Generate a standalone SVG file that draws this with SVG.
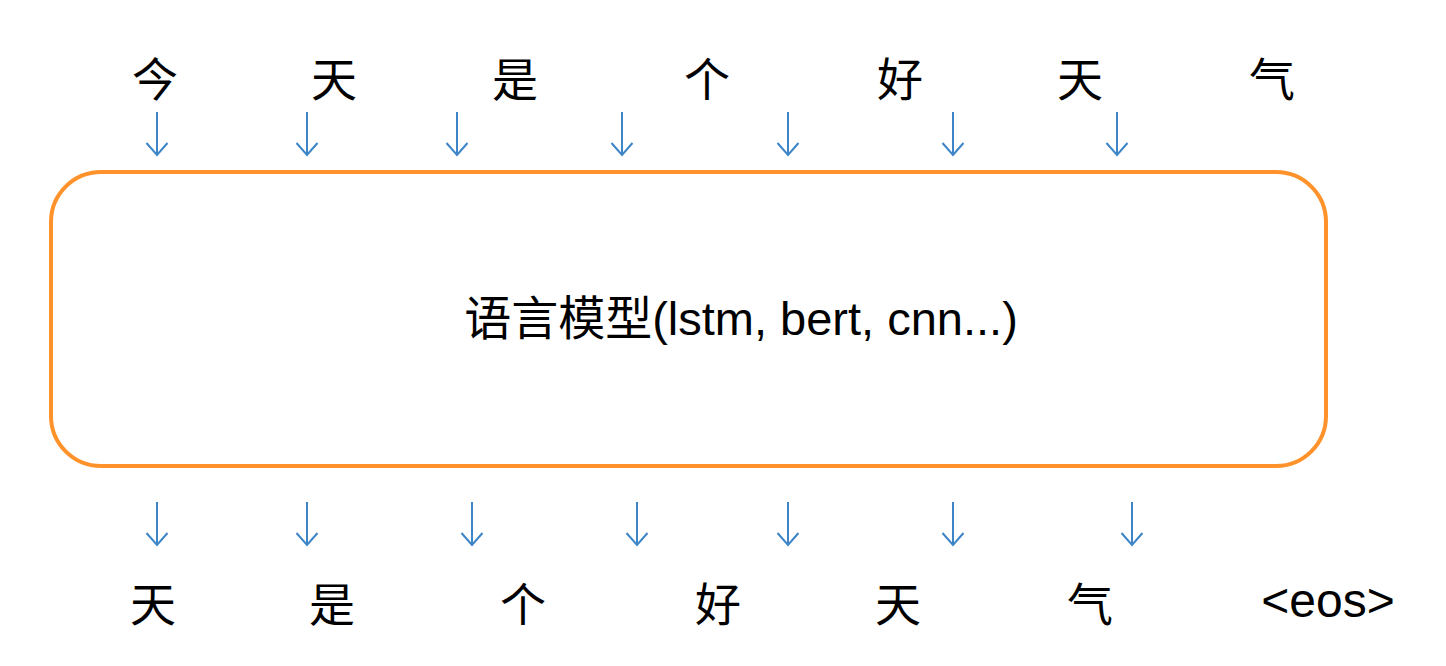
<svg xmlns="http://www.w3.org/2000/svg" width="1446" height="666" viewBox="0 0 1446 666">
<style>
.cjk{font-family:"Noto Sans CJK SC","Noto Sans",sans-serif;font-size:46px;fill:#000;text-anchor:middle}
.lat{font-family:"Liberation Sans","Noto Sans CJK SC",sans-serif;font-size:47px;fill:#000;text-anchor:middle}
.eos{font-family:"Liberation Sans",sans-serif;font-size:48px;fill:#000;text-anchor:middle}
.arr{stroke:#3d85c6;stroke-width:2;fill:none}
</style>
<defs>
<marker id="ah" markerWidth="14" markerHeight="24" viewBox="0 0 14 24" refX="13" refY="12" orient="auto" markerUnits="userSpaceOnUse" overflow="visible">
<path d="M1 1.5 L13 12 L1 22.5" fill="none" stroke="#3d85c6" stroke-width="2"/>
</marker>
</defs>
<rect width="1446" height="666" fill="#fff"/>
<g id="model">
<rect x="51" y="172" width="1275" height="294" rx="50" ry="50" fill="#fff" stroke="#ff922b" stroke-width="4"/>
<text class="lat" x="741" y="335">语言模型(lstm, bert, cnn...)</text>
</g>
<g id="inputs">
<text class="cjk" x="155" y="96">今</text>
<text class="cjk" x="334" y="96">天</text>
<text class="cjk" x="515" y="96">是</text>
<text class="cjk" x="707" y="96">个</text>
<text class="cjk" x="900" y="96">好</text>
<text class="cjk" x="1080" y="96">天</text>
<text class="cjk" x="1272" y="96">气</text>
</g>
<g id="outputs">
<text class="cjk" x="153" y="621">天</text>
<text class="cjk" x="332" y="621">是</text>
<text class="cjk" x="523" y="621">个</text>
<text class="cjk" x="718" y="621">好</text>
<text class="cjk" x="898" y="621">天</text>
<text class="cjk" x="1090" y="621">气</text>
<text class="eos" x="1328" y="617">&lt;eos&gt;</text>
</g>
<g id="connectors" class="arr">
<line x1="157" y1="112" x2="157" y2="155" marker-end="url(#ah)"/>
<line x1="307" y1="112" x2="307" y2="155" marker-end="url(#ah)"/>
<line x1="457" y1="112" x2="457" y2="155" marker-end="url(#ah)"/>
<line x1="622" y1="112" x2="622" y2="155" marker-end="url(#ah)"/>
<line x1="788" y1="112" x2="788" y2="155" marker-end="url(#ah)"/>
<line x1="953" y1="112" x2="953" y2="155" marker-end="url(#ah)"/>
<line x1="1117" y1="112" x2="1117" y2="155" marker-end="url(#ah)"/>
<line x1="157" y1="502" x2="157" y2="545" marker-end="url(#ah)"/>
<line x1="307" y1="502" x2="307" y2="545" marker-end="url(#ah)"/>
<line x1="472" y1="502" x2="472" y2="545" marker-end="url(#ah)"/>
<line x1="637" y1="502" x2="637" y2="545" marker-end="url(#ah)"/>
<line x1="788" y1="502" x2="788" y2="545" marker-end="url(#ah)"/>
<line x1="953" y1="502" x2="953" y2="545" marker-end="url(#ah)"/>
<line x1="1132" y1="502" x2="1132" y2="545" marker-end="url(#ah)"/>
</g>
</svg>
